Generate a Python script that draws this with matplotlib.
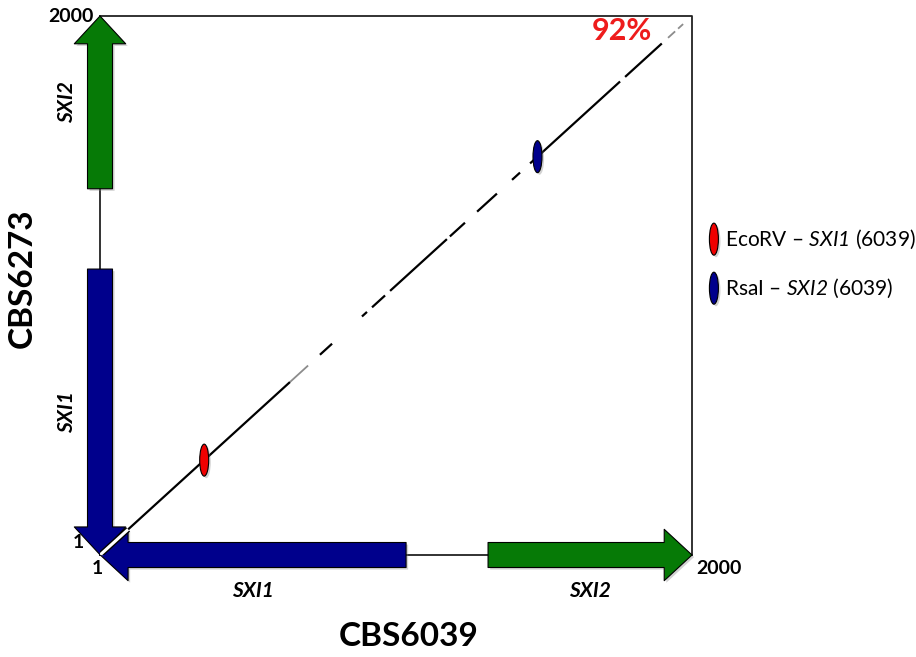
import matplotlib
matplotlib.use('Agg')
import matplotlib.pyplot as plt
from matplotlib.patches import FancyArrowPatch, Ellipse
import matplotlib.patheffects as pe

plt.rcParams['font.family'] = ['Lato', 'DejaVu Sans']
# math text is only used for the italic gene names inside the legend
plt.rcParams['mathtext.fontset'] = 'custom'
plt.rcParams['mathtext.rm'] = 'Lato:italic'
plt.rcParams['mathtext.it'] = 'Lato:italic'

# --- data ---------------------------------------------------------------
seq_len = 2000
x_name = 'CBS6039'
y_name = 'CBS6273'
identity = '92%'

# genes along each genome (tail -> tip, bp)
x_genes = ['SXI1', 'SXI2']
x_tail = [1034, 1311]
x_tip = [1, 2000]
y_genes = ['SXI1', 'SXI2']
y_tail = [1061, 1359]
y_tip = [1, 2000]
gene_colors = ['#00008C', '#067A06']

# dot-plot matches along the diagonal (bp on CBS6039)
match_start = [95, 743, 885, 919, 980, 1182, 1274, 1392, 1453, 1774]
match_end = [642, 784, 902, 963, 1172, 1233, 1341, 1419, 1757, 1898]
weak_start = [642, 1919, 1953]
weak_end = [703, 1943, 1970]

# restriction sites
site_pos = [352, 1478]
site_colors = ['#F00000', '#00008C']
site_labels = ['EcoRV – $\\mathrm{SXI1}$ (6039)', 'RsaI – $\\mathrm{SXI2}$ (6039)']

# --- figure -------------------------------------------------------------
fig = plt.figure(figsize=(9.16, 6.57), dpi=100)
ax = fig.add_axes([100 / 916, 102 / 657, 592 / 916, 539 / 657])
ax.set_xlim(0, seq_len)
ax.set_ylim(0, seq_len)
ax.axis('off')

# pixel -> data helpers
px_x = seq_len / 592
px_y = seq_len / 539

# frame
ax.plot([0, seq_len, seq_len], [seq_len, seq_len, 0], color='#222222', lw=1.3,
        clip_on=False, zorder=1)
ax.plot([0, 0], [0, seq_len], color='#222222', lw=1.3, clip_on=False, zorder=1)
ax.plot([0, seq_len], [0, 0], color='#222222', lw=1.3, clip_on=False, zorder=1)

shadow = [pe.SimplePatchShadow(offset=(1.5, -1.5), shadow_rgbFace='gray', alpha=0.35),
          pe.Normal()]
style = 'simple,head_length=20,head_width=37,tail_width=18'

# gene arrows on x axis
for g, t0, t1, c in zip(x_genes, x_tail, x_tip, gene_colors):
    arr = FancyArrowPatch((t0, 0), (t1, 0), arrowstyle=style, mutation_scale=1,
                          shrinkA=0, shrinkB=0, fc=c, ec='black', lw=0.8,
                          clip_on=False, zorder=3, path_effects=shadow)
    ax.add_patch(arr)
    ax.annotate(g, ((t0 + t1) / 2, 0), xytext=(0, -36), textcoords='offset pixels',
                ha='center', va='center', fontsize=15, fontweight='bold',
                fontstyle='italic', annotation_clip=False)

# gene arrows on y axis
for g, t0, t1, c in zip(y_genes, y_tail, y_tip, gene_colors):
    arr = FancyArrowPatch((0, t0), (0, t1), arrowstyle=style, mutation_scale=1,
                          shrinkA=0, shrinkB=0, fc=c, ec='black', lw=0.8,
                          clip_on=False, zorder=3, path_effects=shadow)
    ax.add_patch(arr)
    ax.annotate(g, (0, (t0 + t1) / 2), xytext=(-33, 0), textcoords='offset pixels',
                ha='center', va='center', fontsize=15, fontweight='bold',
                fontstyle='italic', rotation=90, annotation_clip=False)

# diagonal matches
ax.plot([1, match_start[0]], [1, match_start[0]], color='black', lw=4.2,
        solid_capstyle='butt', zorder=4)
ax.plot([1, match_start[0]], [1, match_start[0]], color='white', lw=2.2,
        solid_capstyle='butt', zorder=4)
for s, e in zip(match_start, match_end):
    ax.plot([s, e], [s, e], color='black', lw=1.6, solid_capstyle='butt', zorder=2)
for s, e in zip(weak_start, weak_end):
    ax.plot([s, e], [s, e], color='#8c8c8c', lw=1.3, solid_capstyle='butt', zorder=2)

# restriction sites
for p, c in zip(site_pos, site_colors):
    ax.add_patch(Ellipse((p, p), 9 * px_x, 32 * px_y, fc=c, ec='black', lw=0.8,
                         zorder=5, path_effects=shadow))

# legend
for i, (c, lab) in enumerate(zip(site_colors, site_labels)):
    yy = 0.586 - i * 0.091
    ax.add_patch(Ellipse((1.037, yy), 9 / 592, 32 / 539, transform=ax.transAxes,
                         fc=c, ec='black', lw=0.8, clip_on=False, zorder=5,
                         path_effects=shadow))
    ax.text(1.055, yy, lab, transform=ax.transAxes, ha='left', va='center',
            fontsize=15)

# end coordinates
ax.text(-6 * px_x, seq_len, str(seq_len), ha='right', va='center', fontsize=14,
        fontweight='bold', clip_on=False)
ax.text(seq_len + 4 * px_x, -14 * px_y, str(seq_len), ha='left', va='center',
        fontsize=14, fontweight='bold', clip_on=False)
ax.text(-22 * px_x, 12 * px_y, '1', ha='center', va='center', fontsize=14,
        fontweight='bold', clip_on=False)
ax.text(-3 * px_x, -14 * px_y, '1', ha='center', va='center', fontsize=14,
        fontweight='bold', clip_on=False)

ax.text(0.882, 0.972, identity, transform=ax.transAxes, ha='center', va='center',
        fontsize=22, fontweight='bold', color='#EE1C1C')

fig.text(409 / 916, 1 - 637 / 657, x_name, ha='center', va='center', fontsize=24,
         fontweight='bold')
fig.text(22 / 916, 1 - 278 / 657, y_name, ha='center', va='center', fontsize=24,
         fontweight='bold', rotation=90)

fig.savefig('out.png', dpi=100, facecolor='white')
